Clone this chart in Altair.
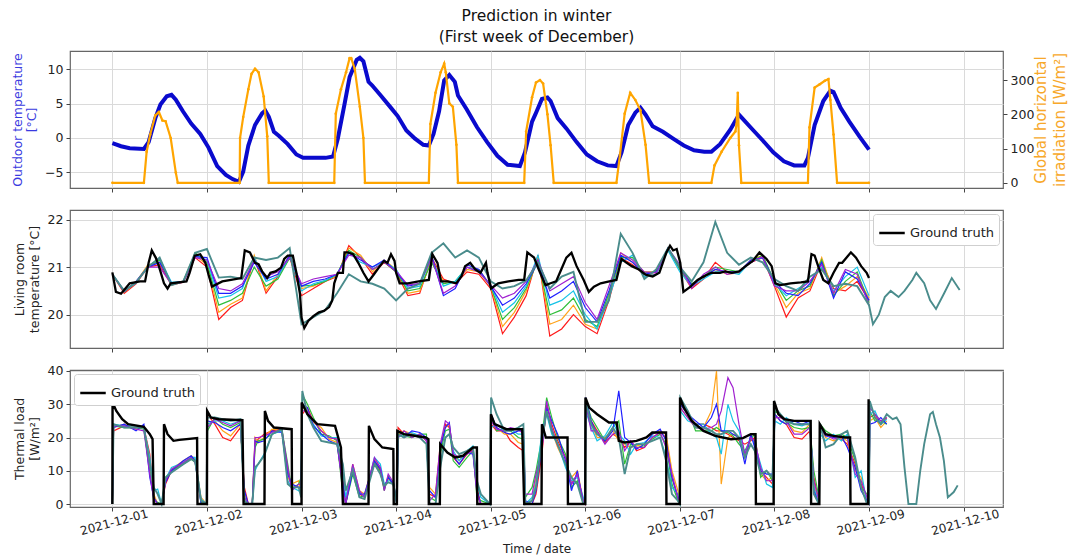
import altair as alt
import pandas as pd

# All times are hours after 2021-12-01 00:00
START = pd.Timestamp("2021-12-01 00:00:00")

# ---------------- outdoor conditions ----------------
temp_hours = [0, 2.2, 4.4, 8, 9.2, 10.9, 12.2, 13.8, 15, 16.1,
              17.9, 20, 22.3, 24.4, 26.6, 28.8, 30.5, 32.1, 33.2, 34.5,
              36.2, 38, 38.8, 39.7, 41, 42.3, 44.5, 46.7, 48.4, 51.5,
              54.1, 56, 57.2, 58.9, 60.2, 62, 62.8, 63.7, 65, 65.9,
              68.1, 70.7, 72.4, 74.6, 76.8, 78.9, 80.3, 81.5, 82.9, 84.2,
              85.5, 86.9, 87.7, 89.9, 92.5, 95.1, 97.7, 100.3, 103.4, 104.7,
              106.5, 107.3, 109, 110.4, 111.2, 113, 115.2, 117.8, 120.4, 123,
              125.7, 127.9, 129.2, 130.9, 132.7, 134, 135.3, 137.1, 139.7, 142.3,
              145, 147.6, 150.2, 152, 154.2, 156.8, 159, 159.8, 162.5, 165.1,
              167.7, 170.4, 173, 175.6, 176.5, 178.2, 180.4, 182.2, 183, 184.8,
              187, 189.6, 192]
temp_values = [-0.75, -1.2, -1.5, -1.6, -0.6, 2.9, 4.9, 6.1, 6.3, 5.6,
               3.9, 2.1, 0.6, -1.4, -4.1, -5.4, -6.0, -6.4, -4.9, -1.1,
               1.9, 3.6, 4.0, 3.1, 0.9, 0.3, -0.9, -2.4, -2.9, -2.9,
               -2.9, -2.7, -0.1, 4.9, 8.9, 11.4, 11.7, 11.2, 8.2, 7.7,
               6.2, 4.4, 3.2, 1.1, -0.1, -1.0, -1.1, 0.6, 3.9, 8.4,
               9.2, 8.2, 6.2, 4.2, 1.6, -0.6, -2.6, -3.9, -4.1, -2.1,
               2.4, 3.4, 5.7, 5.9, 5.4, 2.9, 1.4, -0.6, -2.4, -3.4,
               -4.0, -4.1, -2.1, 1.9, 3.7, 4.4, 3.4, 1.7, 0.9, -0.1,
               -1.1, -1.8, -2.0, -2.0, -0.9, 1.2, 3.4, 2.9, 1.2, -0.4,
               -2.1, -3.4, -4.0, -4.0, -2.9, 1.9, 5.4, 6.9, 6.7, 4.4,
               2.4, 0.2, -1.7]

irr_hours = [0, 8, 8.7, 9.6, 10.9, 11.8, 12.7, 13.5, 14.8, 16.1,
             16.6, 32.3, 32.4, 33.2, 34.5, 35.3, 36.2, 37.1, 38.4, 39.3,
             39.7, 56.3, 56.7, 58, 59.3, 60.2, 60.6, 61.5, 62.8, 63.7,
             64.1, 80.3, 80.7, 82, 83.3, 84.2, 84.6, 85.5, 86.4, 87.3,
             87.7, 104.5, 105, 106.5, 107.5, 108.5, 109.3, 110.4, 111.2, 112,
             127.9, 128.8, 130, 131.4, 132.7, 134, 135.3, 136.2, 152, 152.8,
             154.6, 156.8, 158.1, 158.4, 158.7, 159.0, 159.6, 176.5, 176.9, 178.2,
             179.5, 180.8, 181.7, 182.2, 183, 183.9, 192]
irr_values = [0, 0, 91, 141, 197, 207, 182, 180, 131, 30,
              0, 0, 131, 192, 273, 318, 333, 323, 252, 136,
              0, 0, 202, 273, 323, 364, 364, 333, 222, 131,
              0, 0, 172, 263, 323, 348, 323, 232, 222, 111,
              0, 0, 150, 250, 293, 300, 290, 200, 110, 0,
              0, 81, 202, 263, 242, 212, 111, 0, 0, 51,
              91, 131, 150, 172, 263, 110, 0, 0, 162, 278,
              288, 298, 303, 242, 141, 0, 0]

# ---------------- living room temperature ----------------
room_gt_hours = [0, 0.9, 2.2, 4.4, 7, 8.3, 9.2, 10, 11, 11.8,
                 13.1, 14, 14.8, 18.8, 19.6, 20.9, 22.3, 23.6, 24.4, 25.3,
                 27.9, 30.1, 32.7, 33.6, 34.9, 36.2, 37.1, 38, 39.3, 40.1,
                 41.4, 42.8, 43.6, 44.5, 45.8, 46.7, 47.6, 48, 48.7, 49.7,
                 51, 52.4, 53.7, 55, 55.8, 56.3, 57.2, 58.5, 58.9, 59.8,
                 61.1, 62.4, 63.7, 65, 66.3, 67.6, 68.9, 69.8, 70.7, 71.6,
                 72, 72.9, 75, 77.7, 80.3, 81.2, 82.5, 83.4, 85.1, 87.3,
                 88.6, 89.5, 90.8, 92.1, 93.4, 94.8, 95.2, 96.1, 97.9, 100.5,
                 103.1, 104.5, 105.3, 107, 108.2, 109.9, 111.2, 112.6, 113.9, 115.2,
                 116.5, 117.8, 119.6, 120.9, 122.2, 123.9, 126.1, 127.9, 129.2, 130.5,
                 131.8, 133.6, 135.3, 137.1, 138.8, 140.6, 141.5, 142.3, 143.2, 144.1,
                 144.9, 146.7, 148.5, 150.2, 152, 154.2, 155.5, 157.2, 159, 160.7,
                 162.5, 164.2, 166, 167.3, 168.2, 169.5, 172.1, 174.7, 176.5, 177.4,
                 178.2, 179.1, 180.4, 181.7, 183, 184.4, 185.2, 187.4, 188.7, 190,
                 191.4, 192]
room_gt = [20.89, 20.48, 20.44, 20.66, 20.70, 20.70, 21.09, 21.35, 21.2, 21.02,
           20.66, 20.55, 20.66, 20.70, 20.88, 21.24, 21.27, 21.09, 20.84, 20.59,
           20.70, 20.73, 20.77, 21.35, 21.31, 21.09, 21.06, 20.91, 20.77, 20.88,
           20.91, 20.99, 21.17, 21.24, 21.24, 20.88, 20.44, 19.94, 19.72, 19.87,
           19.97, 20.05, 20.08, 20.16, 20.3, 20.66, 20.88, 20.88, 21.31, 21.31,
           21.27, 21.09, 20.88, 20.70, 20.84, 20.99, 21.13, 21.09, 21.27, 21.13,
           20.88, 20.66, 20.66, 20.70, 20.73, 21.27, 21.09, 20.70, 20.70, 20.66,
           20.81, 21.02, 21.09, 20.95, 20.88, 21.09, 20.88, 20.55, 20.66, 20.70,
           20.73, 20.73, 21.31, 21.2, 20.95, 20.62, 20.66, 20.70, 20.95, 21.2,
           21.3, 21.02, 20.73, 20.48, 20.59, 20.66, 20.70, 20.73, 21.17, 21.09,
           21.02, 20.95, 20.84, 20.8, 20.88, 21.31, 21.45, 21.35, 21.38, 21.09,
           20.48, 20.59, 20.73, 20.81, 20.88, 20.88, 20.91, 20.88, 20.91, 21.02,
           21.13, 21.31, 21.17, 21.02, 20.66, 20.62, 20.66, 20.68, 20.70, 21.27,
           21.24, 21.02, 20.73, 20.66, 20.88, 21.09, 21.09, 21.31, 21.2, 21.02,
           20.88, 20.77]

# forecasts sampled every 3 hours
room_pred_hours = list(range(0, 193, 3))
room_red = [20.85, 20.45, 20.65, 21.0, 21.05, 20.62, 20.68, 21.2, 21.0, 19.9,
            20.15, 20.3, 21.2, 20.45, 20.8, 21.2, 20.4, 20.55, 20.7, 20.8,
            21.45, 21.2, 20.85, 21.1, 20.9, 20.4, 20.45, 21.2, 20.75, 20.65,
            20.9, 20.85, 20.55, 19.6, 19.95, 20.4, 21.25, 19.55, 19.7, 20.0,
            19.75, 19.6, 20.3, 21.2, 21.05, 20.85, 20.85, 21.4, 20.95, 20.55,
            20.75, 21.1, 20.9, 20.9, 21.1, 21.2, 20.6, 19.95, 20.35, 20.5,
            21.1, 20.55, 20.5, 20.7, 20.3]
room_orange = [20.85, 20.47, 20.68, 21.05, 21.1, 20.65, 20.7, 21.25, 21.05, 20.05,
               20.22, 20.35, 21.25, 20.5, 20.85, 21.25, 20.55, 20.6, 20.72, 20.82,
               21.4, 21.25, 20.9, 21.15, 20.95, 20.45, 20.5, 21.15, 20.7, 20.68,
               20.95, 20.9, 20.6, 19.75, 20.05, 20.5, 21.2, 19.8, 19.9, 20.2,
               19.8, 19.7, 20.4, 21.3, 21.1, 20.9, 20.9, 21.35, 21.0, 20.6,
               20.8, 20.95, 20.85, 20.88, 21.15, 21.25, 20.65, 20.15, 20.45, 20.55,
               21.2, 20.45, 20.6, 20.8, 20.35]
room_green = [20.85, 20.5, 20.68, 21.0, 21.15, 20.65, 20.7, 21.3, 21.1, 20.2,
              20.3, 20.45, 21.0, 20.6, 20.75, 21.2, 20.6, 20.62, 20.7, 20.85,
              21.35, 21.2, 20.95, 21.1, 20.9, 20.5, 20.55, 21.1, 20.65, 20.7,
              21.0, 20.95, 20.6, 19.9, 20.15, 20.55, 21.15, 20.0, 20.1, 20.35,
              19.9, 19.75, 20.45, 21.2, 21.2, 20.88, 20.9, 21.4, 20.95, 20.65,
              20.8, 21.0, 20.95, 20.9, 21.1, 21.25, 20.7, 20.3, 20.5, 20.6,
              21.15, 20.4, 20.7, 20.9, 20.25]
room_cyan = [20.85, 20.5, 20.66, 21.02, 21.18, 20.68, 20.7, 21.25, 21.15, 20.35,
             20.4, 20.55, 21.2, 20.7, 20.8, 21.22, 20.5, 20.65, 20.72, 20.85,
             21.3, 21.1, 21.0, 21.12, 20.95, 20.55, 20.6, 21.2, 20.6, 20.7,
             21.0, 20.9, 20.62, 20.05, 20.25, 20.6, 21.25, 20.2, 20.3, 20.5,
             20.0, 19.7, 20.35, 21.1, 21.25, 20.8, 20.85, 21.35, 20.9, 20.6,
             20.75, 20.9, 20.9, 20.85, 21.12, 21.2, 20.65, 20.4, 20.55, 20.7,
             21.0, 20.5, 20.8, 21.0, 20.4]
room_blue = [20.85, 20.48, 20.7, 21.0, 21.1, 20.66, 20.7, 21.22, 21.2, 20.45,
             20.45, 20.6, 21.1, 20.75, 20.85, 21.25, 20.6, 20.7, 20.75, 20.85,
             21.3, 21.15, 21.0, 21.15, 20.9, 20.6, 20.65, 21.25, 20.4, 20.55,
             21.05, 20.95, 20.6, 20.2, 20.35, 20.65, 21.1, 20.35, 20.5, 20.7,
             20.15, 19.85, 20.5, 21.25, 21.1, 20.85, 20.9, 21.4, 21.0, 20.62,
             20.8, 20.95, 20.9, 20.9, 21.15, 21.2, 20.7, 20.45, 20.4, 20.65,
             21.1, 20.35, 20.9, 20.75, 20.3]
room_violet = [20.85, 20.5, 20.68, 21.0, 21.0, 20.64, 20.68, 21.2, 21.15, 20.55,
               20.5, 20.65, 21.15, 20.8, 20.9, 21.2, 20.65, 20.75, 20.8, 20.85,
               21.25, 21.2, 20.95, 21.1, 20.92, 20.62, 20.66, 21.2, 20.45, 20.6,
               21.0, 20.9, 20.62, 20.35, 20.45, 20.7, 21.15, 20.5, 20.65, 20.8,
               20.25, 19.9, 20.6, 21.3, 21.15, 20.9, 20.88, 21.4, 21.05, 20.55,
               20.85, 21.0, 20.85, 20.9, 21.1, 21.22, 20.6, 20.5, 20.5, 20.7,
               21.05, 20.45, 20.95, 20.85, 20.2]
room_teal = [20.85, 20.5, 20.68, 21.0, 21.2, 20.62, 20.7, 21.3, 21.38, 20.78,
             20.8, 20.75, 21.2, 21.15, 21.2, 21.4, 19.8, 19.95, 20.1, 20.45,
             20.85, 20.7, 20.65, 20.55, 20.3, 20.55, 20.65, 21.3, 21.5, 21.2,
             21.35, 21.2, 20.7, 20.55, 20.6, 20.72, 21.1, 20.55, 20.8, 20.9,
             19.85, 19.85, 20.3, 21.7, 21.3, 20.75, 20.95, 21.4, 21.0, 20.7,
             21.1, 21.95, 21.3, 21.05, 21.2, 21.1, 20.75, 20.6, 20.5, 20.8,
             20.95, 20.6, 20.65, 20.6, 20.2]
room_teal_tail_hours = [193, 194.5, 196, 197.5, 199.5, 201, 203, 204, 206, 207.5,
                        209, 211, 213, 215]
room_teal_tail = [19.8, 20.0, 20.37, 20.5, 20.37, 20.5, 20.73, 20.88, 20.66, 20.3,
                  20.12, 20.44, 20.77, 20.52]

# ---------------- thermal load ----------------
load_gt_hours = [0, 0.05, 1, 2.5, 4, 8, 9.5, 10.2, 10.5, 13,
                 13.1, 14, 15.5, 17, 21.5, 21.6, 24, 24.05, 25, 27,
                 33, 33.3, 38.6, 38.7, 39.5, 41, 45.5, 45.6, 48, 48.05,
                 49.5, 52, 56.5, 58, 58.5, 65, 65.1, 66.5, 68.5, 71.3,
                 71.4, 72.2, 72.3, 74, 79.5, 80.2, 80.3, 83.1, 83.2, 85,
                 87, 89, 91.5, 92.5, 92.6, 96, 96.05, 97, 100, 104,
                 104.5, 108.9, 109, 110, 115.5, 115.6, 120, 120.05, 121, 123,
                 126, 128, 128.5, 130, 133, 135.5, 137, 140.5, 140.6, 144,
                 144.05, 145, 147, 150, 153, 157, 160, 162, 163.2, 163.3,
                 167.8, 167.9, 169, 170.5, 173, 177.2, 177.3, 179.4, 179.5, 181,
                 183, 186, 187.2, 187.3, 191.8, 191.9]
load_gt = [0, 30.5, 28, 25.5, 24, 23.2, 21, 19.5, 0, 0,
           24, 21, 19, 19.3, 19.8, 0, 0, 28, 26, 25.5,
           25.2, 0, 0, 28, 25, 23, 22.5, 0, 0, 30.5,
           27, 24, 23.5, 17, 0, 0, 23.5, 19.5, 17, 16.5,
           0, 0, 22, 21, 20, 19.5, 0, 0, 18, 15.5,
           14, 14.5, 17, 17, 0, 0, 27, 24, 22.5, 22.5,
           0, 0, 24, 20, 20, 0, 0, 32, 29, 27,
           24.5, 24.5, 19, 18.5, 19, 20, 21.5, 21.5, 0, 0,
           32, 29, 25, 22, 20.5, 19.5, 19.8, 21, 21, 0,
           0, 31, 27, 25.5, 25, 25, 0, 0, 24, 21,
           20.5, 20, 20, 0, 0, 31.5]

load_pred_hours = [0, 0.3, 3, 6, 8, 9.5, 10.5, 11.5, 12.5, 13.5,
                   15, 18, 20, 21, 22.5, 23.9, 24.1, 26, 28, 30,
                   32.5, 33.5, 34.5, 35.5, 36.2, 37, 38.5, 40.5, 43, 44.5,
                   45.5, 47.3, 47.9, 48.2, 49.5, 51, 53, 55, 57, 58.5,
                   59.2, 61, 62.7, 64, 66.5, 68, 69, 70, 71.3, 72.2,
                   72.5, 74, 76, 78, 79.7, 80.5, 82, 83.2, 84.5, 85.5,
                   86.5, 88, 90, 91.5, 92.5, 93.5, 95.8, 96.1, 97.5, 99.5,
                   101, 103, 104.3, 104.8, 106.5, 107.5, 109, 110.2, 111.5, 113,
                   115, 116.5, 118, 119.5, 120, 120.1, 121.5, 123, 125, 127,
                   128.5, 130, 131.5, 133, 135, 137, 139, 140.5, 142, 143.5,
                   144, 144.1, 146, 148, 150, 152, 153.3, 154.5, 156.2, 157.5,
                   159, 160.5, 162, 163, 164.5, 166, 167.5, 168.1, 169.5, 171,
                   173, 175, 177, 178, 179.3, 179.6, 181, 183, 185, 186.5,
                   188.5, 190, 191.5, 192, 192.2, 193.5, 195, 196.5]
load_red = [0, 22, 23.5, 23, 23, 15, 2, 0, 0, 6,
            10, 12.5, 14, 13, 1, 0, 27, 24, 20, 19,
            23, 5, 0, 0, 18, 19.5, 21, 22, 22.5, 10,
            5, 5, 4, 27, 29, 25, 22, 20, 19.5, 8,
            0, 11, 3, 2, 13, 10, 4.5, 8, 6, 0,
            23, 21, 20.5, 21, 19, 3, 2, 16, 24, 23,
            14, 12, 15, 16.5, 5, 0, 0, 24, 22, 22,
            19, 17, 16, 0, 0, 3, 15, 30, 24, 19,
            14, 6, 9, 0, 0, 29, 25, 22, 18.5, 21,
            20, 17, 19, 16, 17, 20, 21.5, 20, 8, 2,
            0, 30, 27, 24, 24, 23, 22, 22, 21, 20,
            19, 18, 19, 20, 10, 8, 6, 27, 25, 24,
            20, 19.5, 22, 8, 1, 22, 21, 20, 19.5, 18,
            12, 6, 2, 0, 26, 27, 24, 26]
load_orange = [0, 23, 24, 22.5, 23.5, 12, 3, 0, 0, 7,
               10.5, 13, 14.5, 13.5, 2, 0, 24, 25, 22, 20.5,
               24, 3, 0, 0, 20, 18.5, 20, 22.5, 22, 8,
               6, 7, 2, 29, 28, 24.5, 23, 19.5, 18.5, 5,
               0, 12, 4, 3, 13.5, 11, 5, 7.5, 6.5, 0,
               21, 22, 21, 20, 20, 5, 3, 18, 23, 24,
               15, 13, 16, 17, 3, 0, 0, 25, 23, 21,
               21, 18.5, 18, 0, 1, 8, 18, 28, 22, 17,
               12, 8, 10, 1, 0, 30, 24, 20, 20, 22,
               19, 18, 17, 17.5, 18, 21, 22, 21, 10, 4,
               0, 29, 26, 23, 23, 28, 40, 6, 20, 21,
               20, 14, 20, 19, 9, 7, 8, 26, 26, 25,
               22, 21.5, 24, 6, 0, 23, 20, 19, 20, 19,
               10, 8, 1, 0, 25, 26, 23, 25]
load_green = [0, 23.5, 23, 23, 22.5, 10, 1, 0.5, 0, 8,
              10, 12, 13.5, 12.5, 0.5, 0, 22, 26, 24, 23,
              24.5, 2, 0, 0, 17, 19, 19.5, 21, 22.5, 12,
              4.5, 6, 8, 33, 30, 26, 21, 20.5, 19, 3,
              0, 9, 2, 2.5, 12.5, 9.5, 4, 8.5, 5.5, 0,
              22, 20.5, 20, 21, 21, 2, 1, 15, 22, 22.5,
              13, 11, 14, 16, 2, 1, 0, 26, 22, 22.5,
              22, 20, 19.5, 2, 5, 10, 20, 32, 26, 20,
              15, 5, 7, 0, 0, 31, 26, 23, 19, 23,
              25, 12, 18, 17, 17.5, 19.5, 21, 18, 6, 1,
              0, 31, 28, 22, 22, 22, 23, 22, 21.5, 20.5,
              18, 16, 19.5, 21, 8, 10, 7, 28, 27, 24.5,
              23, 22.5, 23, 10, 2, 24, 22, 20.5, 21, 20,
              13, 5, 3, 0, 28, 25, 25, 24]
load_cyan = [0, 24, 23.5, 23.5, 23, 14, 4, 4.5, 0, 7.5,
             11, 12.5, 14, 14, 1.5, 0, 24, 25, 25, 24,
             25, 1, 0, 0, 10, 12, 15, 21, 22, 7,
             5, 4, 3, 30, 27, 24, 20.5, 20, 20, 10,
             2, 11.5, 3.5, 2, 14, 12, 6, 7, 7, 0,
             20, 21, 21.5, 20.5, 19.5, 0, 0, 12, 20, 21,
             16, 13, 16, 17.5, 6, 2, 0, 23, 24, 22,
             22.5, 21, 21, 0, 2, 6, 22, 27, 21, 18,
             11, 7, 8, 2, 0, 28, 23, 19, 20.5, 24.5,
             21, 19, 15, 18, 18.5, 20.5, 20, 14, 5, 3,
             0, 28, 25, 24, 24, 21, 20, 15, 30, 25,
             22, 15, 20.5, 18, 12, 6, 5, 25, 24, 26,
             24, 23.5, 24.5, 5, 0, 21, 19, 21, 19, 21,
             8, 10, 0, 0, 27, 28, 24, 25.5]
load_blue = [0, 23, 24, 22, 24, 8, 2, 0, 0, 6.5,
             10, 13, 14.5, 13, 0, 0, 25, 24.5, 23, 22,
             24, 4, 0, 0, 19, 18.5, 19, 22, 21.5, 9,
             6, 5, 5, 30, 29, 23.5, 21, 19, 18, 6,
             0, 10, 3, 3, 13, 10.5, 5, 8, 6, 0,
             21, 20, 22, 21.5, 20, 4, 2, 17, 23, 24.5,
             14.5, 12, 15.5, 15, 4, 0, 0, 27, 23, 21.5,
             21, 22, 22, 1, 0, 4, 17, 29, 25, 21,
             13, 4, 10, 0, 0, 32, 25, 21, 19, 22,
             34, 20, 18.5, 16.5, 18, 21, 22.5, 19, 8, 2,
             0, 30, 27, 25, 23, 26, 30, 22, 22, 21,
             20, 12, 21, 17, 10, 9, 9, 27, 25, 24,
             25, 24, 25, 4, 0, 23, 20.5, 20, 20.5, 17,
             11, 4, 1, 0, 24, 24.5, 26, 24]
load_violet = [0, 23.5, 23.5, 22.5, 22, 9, 1.5, 0, 0, 7,
               10.5, 12.5, 14, 12.5, 1, 0, 23, 25.5, 24.5, 23.5,
               25, 2, 0, 0, 20, 20, 20.5, 21.5, 22.5, 11,
               4, 6, 6, 28, 28, 25, 22, 20, 19.5, 4,
               0, 12, 4, 2, 14, 11, 4, 9, 6.5, 0,
               20, 22, 20, 21, 19, 1, 3, 18, 25, 24,
               15, 14, 15, 16, 3, 0, 0, 25, 22.5, 22,
               23, 22.5, 21, 3, 3, 9, 16, 31, 23, 17.5,
               14, 6, 9, 1, 0, 30, 22, 22, 18, 21,
               22, 16, 19, 17, 17, 20, 21.5, 17, 9, 2,
               0, 29, 26, 23, 22.5, 23, 24, 28, 38, 35,
               24, 15, 20, 19, 11, 7, 7, 26, 26, 25,
               21, 21, 23, 7, 1, 22, 21, 19.5, 20, 20,
               9, 7, 2, 0, 29, 27, 25, 26]
load_teal = [0, 24, 23, 23, 23, 12, 5, 3, 0, 8,
             9.5, 12, 13.5, 13, 1, 0, 26, 26, 25.5, 25,
             25.5, 1, 0, 0, 11, 12, 14.5, 21, 22.5, 6,
             5, 5, 2, 34, 27, 23, 19, 18.5, 18, 12,
             4, 10, 2, 1.5, 12, 9, 5.5, 6.5, 6, 0,
             21, 20, 21, 20, 18, 0, 0, 11, 20, 21,
             17, 15, 16, 17, 7, 3, 0, 32, 27, 22,
             22, 23, 24, 0, 1, 5, 19, 28, 22, 18,
             12, 8, 6, 0, 0, 31, 24, 21, 19.5, 23,
             20, 9, 17, 18, 18, 19, 20, 13, 3, 1,
             0, 32, 28, 23, 23, 22, 21, 21, 22, 22,
             20, 14, 18, 16, 9, 10, 8, 29, 27, 25,
             24, 24, 24, 3, 0, 24, 17, 18, 21, 22,
             14, 5, 0, 0, 31, 26, 24, 27]
load_teal_tail_hours = [198, 199, 200, 201, 202, 204, 205, 206, 207.5, 208.2,
                        209, 210, 211, 212, 213.5, 214.5]
load_teal_tail = [25.5, 26, 24, 11, 0, 0, 10, 18, 27, 27.7,
                  24, 20, 13, 2, 3.6, 5.6]

# ---------------- styling ----------------
pred_names = ["run 1", "run 2", "run 3", "run 4", "run 5", "run 6"]
pred_colors = ["#ff1a1a", "#ffa31a", "#2fbf3a", "#17c3e6", "#2020ff", "#a020d0"]
teal_color = "#4a8c8c"
FONT = "DejaVu Sans"
W = 933
H_TOP = 137


def stamps(hours):
    return [(START + pd.Timedelta(hours=h)).strftime("%Y-%m-%dT%H:%M:%S") for h in hours]


def series_frame(hours, values, name):
    return pd.DataFrame({"time": stamps(hours), "value": values, "series": name})


DAY_TICKS = [alt.DateTime(year=2021, month=12, date=d) for d in range(1, 11)]
X_SCALE = alt.Scale(domain=[alt.DateTime(year=2021, month=11, date=30, hours=13, minutes=15),
                            alt.DateTime(year=2021, month=12, date=10, hours=10)])


def x_enc(with_labels):
    kw = dict(values=DAY_TICKS, grid=True, labels=with_labels)
    if with_labels:
        kw.update(format="%Y-%m-%d", title="Time / date", labelAngle=345,
                  labelAlign="center", labelBaseline="top", labelPadding=6,
                  labelFontSize=12, titlePadding=7, titleFontSize=12)
    else:
        kw.update(title="")
    return alt.X("time:T", scale=X_SCALE, axis=alt.Axis(**kw))


def gt_legend(orient):
    return alt.Legend(orient=orient, title=None, offset=4, fillColor="white",
                      strokeColor="#cfcfcf", padding=5, cornerRadius=3,
                      symbolType="stroke", symbolStrokeWidth=2.5, symbolSize=650,
                      labelFontSize=13, labelFont=FONT, labelColor="#222222")


# ---------------- top panel: weather ----------------
temp_df = series_frame(temp_hours, temp_values, "temp")
irr_df = series_frame(irr_hours, irr_values, "irr")

temp_line = alt.Chart(temp_df).mark_line(color="#0a0acd", strokeWidth=4).encode(
    x=x_enc(False),
    y=alt.Y("value:Q", scale=alt.Scale(domain=[-7.3, 12.7], nice=False, zero=False),
            axis=alt.Axis(values=[-5, 0, 5, 10], title=["Outdoor temperature", "[°C]"],
                          titleColor="#3a3ae0", titlePadding=6)),
)
irr_line = alt.Chart(irr_df).mark_line(
    color="#ffa500", strokeWidth=2.2,
    point=alt.OverlayMarkDef(color="#ffa500", size=7, filled=True),
).encode(
    x=x_enc(False),
    y=alt.Y("value:Q", scale=alt.Scale(domain=[-15, 385], nice=False, zero=False),
            axis=alt.Axis(orient="right", values=[0, 100, 200, 300], grid=False,
                          title=["Global horizontal", "irradiation [W/m²]"],
                          titleColor="#f7a82a", titleFontSize=15, titleLineHeight=19,
                          titleAngle=270, titleBaseline="top", titleAlign="center",
                          titleX=30, titleY=H_TOP / 2)),
)
top = alt.layer(temp_line, irr_line).resolve_scale(y="independent").properties(
    width=W, height=H_TOP,
    title=alt.TitleParams(["Prediction in winter", "(First week of December)"],
                          fontSize=15.5, fontWeight="normal", font=FONT, color="#111111",
                          anchor="middle", offset=4, lineHeight=21),
)

# ---------------- middle panel: living room temperature ----------------
room_pred_df = pd.concat([
    series_frame(room_pred_hours, vals, name)
    for vals, name in zip([room_red, room_orange, room_green, room_cyan, room_blue, room_violet],
                          pred_names)
])
room_teal_df = series_frame(room_pred_hours + room_teal_tail_hours,
                            room_teal + room_teal_tail, "run 7")
room_gt_df = series_frame(room_gt_hours, room_gt, "Ground truth")

y_room = alt.Y("value:Q", scale=alt.Scale(domain=[19.3, 22.2], nice=False, zero=False),
               axis=alt.Axis(values=[20, 21, 22], title=["Living room", "temperature [°C]"],
                             titlePadding=6))
room_preds = alt.Chart(room_pred_df).mark_line(strokeWidth=1.2, clip=True).encode(
    x=x_enc(False), y=y_room,
    stroke=alt.Stroke("series:N", scale=alt.Scale(domain=pred_names, range=pred_colors), legend=None),
)
room_teal_line = alt.Chart(room_teal_df).mark_line(strokeWidth=1.9, color=teal_color, clip=True).encode(
    x=x_enc(False), y=y_room)
room_truth = alt.Chart(room_gt_df).mark_line(strokeWidth=2.3, clip=True).encode(
    x=x_enc(False), y=y_room,
    color=alt.Color("series:N", scale=alt.Scale(domain=["Ground truth"], range=["black"]),
                    legend=gt_legend("top-right")),
)
mid = alt.layer(room_preds, room_teal_line, room_truth).properties(width=W, height=138)

# ---------------- bottom panel: thermal load ----------------
load_pred_df = pd.concat([
    series_frame(load_pred_hours, vals, name)
    for vals, name in zip([load_red, load_orange, load_green, load_cyan, load_blue, load_violet],
                          pred_names)
])
load_teal_df = series_frame(load_pred_hours + load_teal_tail_hours,
                            load_teal + load_teal_tail, "run 7")
load_gt_df = series_frame(load_gt_hours, load_gt, "Ground truth")

y_load = alt.Y("value:Q", scale=alt.Scale(domain=[-0.9, 40.3], nice=False, zero=False),
               axis=alt.Axis(values=[0, 10, 20, 30, 40], title=["Thermal load", "[W/m²]"],
                             titlePadding=6))
load_preds = alt.Chart(load_pred_df).mark_line(strokeWidth=1.2, clip=True).encode(
    x=x_enc(True), y=y_load,
    stroke=alt.Stroke("series:N", scale=alt.Scale(domain=pred_names, range=pred_colors), legend=None),
)
load_teal_line = alt.Chart(load_teal_df).mark_line(strokeWidth=1.9, color=teal_color, clip=True).encode(
    x=x_enc(True), y=y_load)
load_truth = alt.Chart(load_gt_df).mark_line(strokeWidth=2.4, clip=True).encode(
    x=x_enc(True), y=y_load,
    color=alt.Color("series:N", scale=alt.Scale(domain=["Ground truth"], range=["black"]),
                    legend=gt_legend("top-left")),
)
bot = alt.layer(load_preds, load_teal_line, load_truth).properties(width=W, height=137)

chart = alt.vconcat(top, mid, bot, spacing=22, bounds="flush").resolve_scale(
    y="independent", color="independent", stroke="independent"
).properties(
    padding={"left": 10, "right": 0, "top": 8, "bottom": 0}
).configure(font=FONT).configure_view(
    stroke="#666666", strokeWidth=1.2
).configure_axis(
    grid=True, gridColor="#dadada", gridWidth=1, domain=False,
    tickColor="#444444", tickSize=4, labelFontSize=12.5, titleFontSize=12.5,
    labelColor="#222222", titleColor="#222222", titleFontWeight="normal",
    labelPadding=3, labelFont=FONT, titleFont=FONT,
)

chart.save("out.html", embed_options={"renderer": "svg", "actions": False})
